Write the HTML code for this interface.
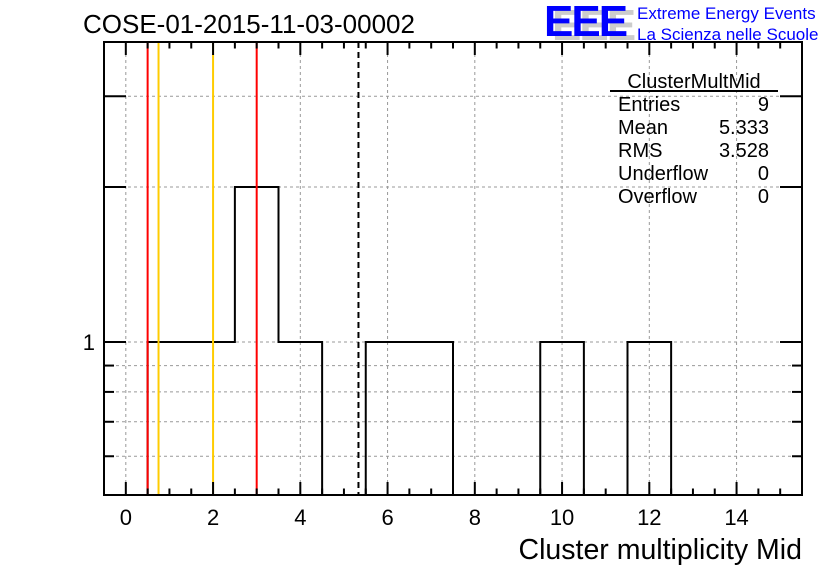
<!DOCTYPE html>
<html><head><meta charset="utf-8"><style>body{margin:0;background:#fff}svg{display:block;font-family:"Liberation Sans",sans-serif}</style></head>
<body>
<svg id="c" width="836" height="572"></svg>
<script>
const binEdgesLow = [0.5,1.5,2.5,3.5,4.5,5.5,6.5,7.5,8.5,9.5,10.5,11.5,12.5];
const binCounts = [1,1,2,1,0,1,1,0,0,1,0,1,0];
const xTicks = [0,2,4,6,8,10,12,14];
const yTicks = [0.6,0.7,0.8,0.9,1,2,3];
const yLabels = [1];
const redLines = [0.5,3];
const orangeLines = [0.75,2];
const meanLine = [5.333];
const statNames = ["Entries","Mean","RMS","Underflow","Overflow"];
const statValues = ["9","5.333","3.528","0","0"];

const L=104,R=802,T=42,B=495;
const xMin=-0.5,xMax=15.5;
const X=v=>L+(v-xMin)/(xMax-xMin)*(R-L);
const Y=v=>342-Math.log10(v)*515;
const svg=document.getElementById('c');
const NS='http://www.w3.org/2000/svg';
function mk(tag,at,name,parent){const e=document.createElementNS(NS,tag);for(const k in at)e.setAttribute(k,at[k]);


(parent||svg).appendChild(e);return e;}
xTicks.forEach(t=>mk('line',{x1:X(t),x2:X(t),y1:T,y2:B,stroke:'#999','stroke-dasharray':'3,3','stroke-width':1},'x-grid-line'));
yTicks.forEach(t=>mk('line',{x1:L,x2:R,y1:Y(t),y2:Y(t),stroke:'#999','stroke-dasharray':'3,3','stroke-width':1},'y-grid-line'));
let d='';
binEdgesLow.forEach((lo,i)=>{const c=binCounts[i];const y=c>0?Y(c):B+5;
 d+=(i===0?'M'+X(lo)+','+(B)+' ':'')+'L'+X(lo)+','+y+' L'+X(lo+1)+','+y+' ';});
d+='L'+X(binEdgesLow[binEdgesLow.length-1]+1)+','+B;
const cp=mk('clipPath',{id:'cp'},'plot-clip');mk('rect',{x:L,y:T,width:R-L,height:B-T},'clip-rect',cp);
mk('path',{d:d,fill:'none',stroke:'#000','stroke-width':2,'clip-path':'url(#cp)'},'histogram-line');
redLines.forEach(v=>mk('line',{x1:X(v),x2:X(v),y1:T,y2:B,stroke:'#f00','stroke-width':2},'red-marker-line'));
orangeLines.forEach(v=>mk('line',{x1:X(v),x2:X(v),y1:T,y2:B,stroke:'#fc0','stroke-width':2},'orange-marker-line'));
meanLine.forEach(v=>mk('line',{x1:X(v),x2:X(v),y1:T,y2:B,stroke:'#000','stroke-width':2,'stroke-dasharray':'6,4'},'mean-line'));
mk('rect',{x:L,y:T,width:R-L,height:B-T,fill:'none',stroke:'#000','stroke-width':2},'plot-frame');
for(let v=0;v<=15;v+=0.5){const big=v%2===0;const len=big?13:6.5;
 mk('line',{x1:X(v),x2:X(v),y1:B,y2:B-len,stroke:'#000','stroke-width':2},'x-tick');
 mk('line',{x1:X(v),x2:X(v),y1:T,y2:T+len,stroke:'#000','stroke-width':2},'x-tick-top');}
xTicks.forEach(t=>{const e=mk('text',{x:X(t),y:B+30,'font-size':22,'text-anchor':'middle'},'x-tick-label');e.textContent=t;});
yTicks.forEach(t=>{const len=t===1||t===2||t===3?22:10;
 mk('line',{x1:L,x2:L+len,y1:Y(t),y2:Y(t),stroke:'#000','stroke-width':2},'y-tick');
 mk('line',{x1:R,x2:R-len,y1:Y(t),y2:Y(t),stroke:'#000','stroke-width':2},'y-tick-right');});
yLabels.forEach(t=>{const e=mk('text',{x:95,y:Y(t)+8,'font-size':22,'text-anchor':'end'},'y-tick-label');e.textContent=t;});
let e=mk('text',{x:802,y:559,'font-size':28.5,'text-anchor':'end'},'x-axis-title');e.textContent='Cluster multiplicity Mid';
e=mk('text',{x:83,y:33,'font-size':26},'chart-title');e.textContent='COSE-01-2015-11-03-00002';
e=mk('text',{x:552,y:40,'font-size':44,'font-weight':'bold',fill:'#ccc','letter-spacing':'-2'},'logo-shadow');e.textContent='EEE';
e=mk('text',{x:544,y:36,'font-size':44,'font-weight':'bold',fill:'#00f','letter-spacing':'-2'},'logo-eee');e.textContent='EEE';
e=mk('text',{x:637,y:19,'font-size':17,fill:'#00f'},'logo-line1');e.textContent='Extreme Energy Events';
e=mk('text',{x:637,y:40,'font-size':17,fill:'#00f'},'logo-line2');e.textContent='La Scienza nelle Scuole';
e=mk('text',{x:694,y:88,'font-size':20,'text-anchor':'middle'},'stats-title');e.textContent='ClusterMultMid';
mk('line',{x1:610,x2:778,y1:91,y2:91,stroke:'#000','stroke-width':2},'stats-title-underline');
statNames.forEach((n,i)=>{let t=mk('text',{x:618,y:111+i*23,'font-size':20},'stats-name');t.textContent=n;
 t=mk('text',{x:769,y:111+i*23,'font-size':20,'text-anchor':'end'},'stats-value');t.textContent=statValues[i];});
</script>
</body></html>
